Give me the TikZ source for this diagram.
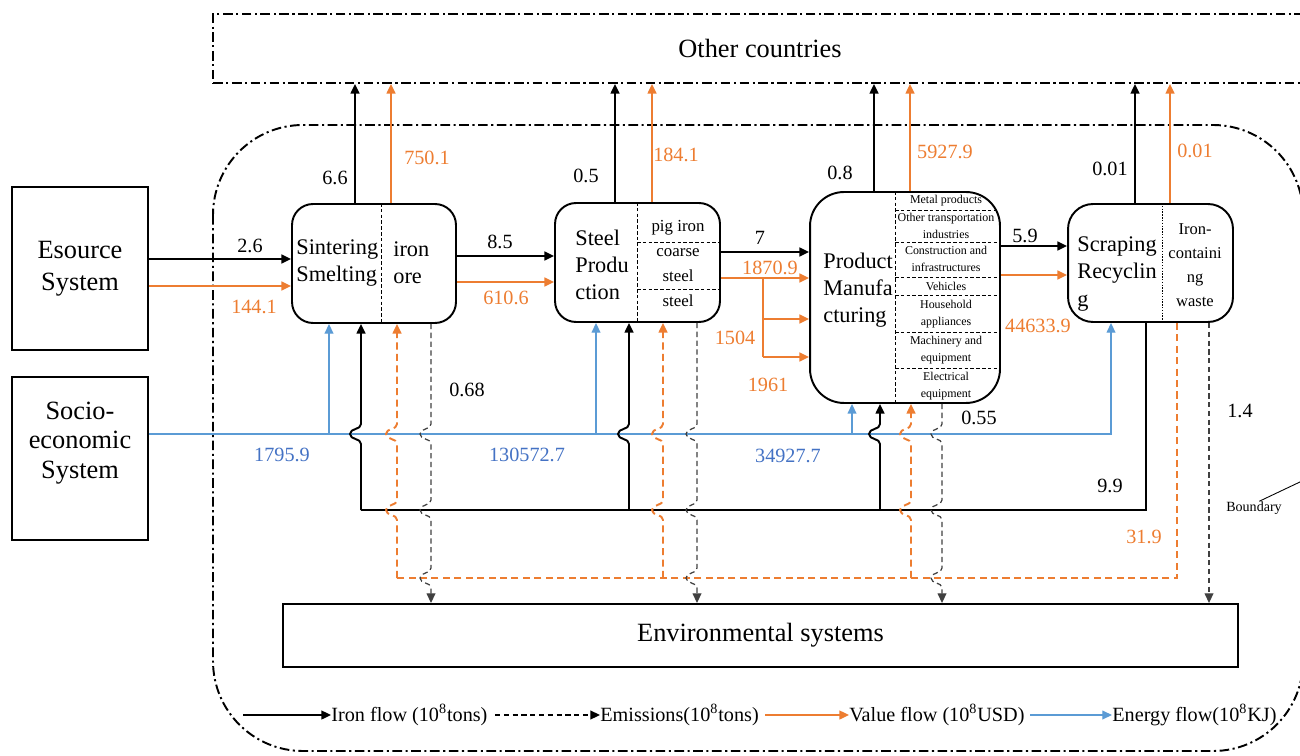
\documentclass[tikz,border=0pt]{standalone}
\usepackage{fontspec}
\setmainfont{Liberation Serif}
\usepackage{tikz}
\usetikzlibrary{arrows.meta}
\definecolor{valueorange}{HTML}{ED7D31}
\definecolor{energyblue}{HTML}{5B9BD5}
\definecolor{energydark}{HTML}{4472C4}
\definecolor{emisgray}{HTML}{404040}
\newcommand{\hopdown}[2]{-- (#1,#2-10) .. controls (#1,#2-4) and (#1-11,#2-6) .. (#1-11,#2) .. controls (#1-11,#2+6) and (#1,#2+4) .. (#1,#2+10)}
\newcommand{\hopup}[2]{-- (#1,#2+10) .. controls (#1,#2+4) and (#1-11,#2+6) .. (#1-11,#2) .. controls (#1-11,#2-6) and (#1,#2-4) .. (#1,#2-10)}

\begin{document}
\begin{tikzpicture}[x=0.02cm, y=-0.02cm,
  flowtip/.style={-{Triangle[length=5.5pt,width=5pt]}},
  sysbox/.style={draw, line width=1.1pt, minimum width=2.72cm, minimum height=3.26cm,
    align=center, font=\fontsize{15}{18}\selectfont},
  stage/.style={draw, line width=1.1pt, inner sep=0pt},
  stagetext/.style={anchor=west, align=left, inner sep=0pt, font=\fontsize{12.7}{15.6}\selectfont},
  parttext/.style={align=center, inner sep=0pt, font=\fontsize{9.6}{13.8}\selectfont},
  rowtext/.style={align=center, inner sep=0pt, font=\fontsize{6.8}{9.6}\selectfont},
  divider/.style={dash pattern=on 2pt off 1.3pt, line width=0.5pt},
  boundary/.style={line width=1.1pt, dash pattern=on 5.5pt off 2pt on 1.2pt off 2pt},
  ironflow/.style={line width=1.1pt},
  valueflow/.style={valueorange, line width=1.1pt},
  valuedash/.style={valueorange, line width=1.1pt, dash pattern=on 4pt off 2.5pt},
  emission/.style={emisgray, line width=0.7pt, dash pattern=on 3pt off 2pt},
  energyflow/.style={energyblue, line width=0.7pt},
  num/.style={font=\fontsize{11.5}{13}\selectfont, inner sep=0pt},
  legendtext/.style={anchor=west, inner sep=0pt, font=\fontsize{11.5}{13}\selectfont}
]
\useasboundingbox (0,0) rectangle (1300,756);

\node[draw, boundary, minimum width=21.88cm, minimum height=1.38cm, font=\fontsize{15}{18}\selectfont] (others) at (760,48.5) {Other countries};
\draw[boundary, rounded corners=1.8cm] (213,125) rectangle (1303,751);

\node[sysbox] (esource) at (80,268.5) {Esource\\System};
\node[sysbox] (socio) at (80,458.5) {};
\node[align=center, inner sep=0pt, font=\fontsize{15}{17}\selectfont] (sociotxt) at (80,443) {Socio-\\economic\\System};

\node[stage, rounded corners=0.42cm, minimum width=3.28cm, minimum height=2.38cm] (sinter) at (374,263.5) {};
\node[stage, rounded corners=0.42cm, minimum width=3.3cm, minimum height=2.38cm] (steel) at (637.5,262.5) {};
\node[stage, rounded corners=0.68cm, minimum width=3.8cm, minimum height=4.22cm] (pm) at (905,297.5) {};
\node[stage, rounded corners=0.5cm, minimum width=3.3cm, minimum height=2.36cm] (scrap) at (1150.5,263) {};
\node[draw, line width=1.1pt, minimum width=19.1cm, minimum height=1.26cm, font=\fontsize{15}{18}\selectfont] (env) at (760.5,635.5) {Environmental systems};

\node[stagetext] (sintertxt) at (296,263) {Sintering\\Smelting};
\node[stagetext] (oretxt) at (393,263) {iron\\ore};
\draw[divider] (381,0 |- sinter.north) -- (381,0 |- sinter.south);

\node[stagetext, font=\fontsize{12.7}{15.3}\selectfont] (steeltxt) at (575,265) {Steel\\Produ\\ction};
\draw[divider] (637,0 |- steel.north) -- (637,0 |- steel.south);
\draw[divider] (637,242) -- (steel.east |- 0,242);
\draw[divider] (637,289) -- (steel.east |- 0,289);
\node[parttext] (pigtxt) at (678,228) {pig iron};
\node[parttext] (coarsetxt) at (678,265) {coarse\\steel};
\node[parttext] (steelpart) at (678,301) {steel};

\node[stagetext, font=\fontsize{12.7}{15.3}\selectfont] (pmtxt) at (823,290) {Product\\Manufa\\cturing};
\draw[divider] (895,0 |- pm.north) -- (895,0 |- pm.south);
\foreach \y in {210,242,277,295,332,368}
  \draw[divider] (895,\y) -- (997,\y);
\node[rowtext] (row1) at (946,201) {Metal products};
\node[rowtext] (row2) at (946,226) {Other transportation\\industries};
\node[rowtext] (row3) at (946,259) {Construction and\\infrastructures};
\node[rowtext] (row4) at (946,286) {Vehicles};
\node[rowtext] (row5) at (946,314) {Household\\appliances};
\node[rowtext] (row6) at (946,350) {Machinery and\\equipment};
\node[rowtext] (row7) at (946,386) {Electrical\\equipment};

\node[stagetext, font=\fontsize{12.7}{15.9}\selectfont] (scraptxt) at (1077,274) {Scraping\\Recyclin\\g};
\draw[divider, dash pattern=on 0.8pt off 0.8pt] (1162,0 |- scrap.north) -- (1162,0 |- scrap.south);
\node[parttext, font=\fontsize{9.4}{13.6}\selectfont] (wastetxt) at (1195,265) {Iron-\\containi\\ng\\waste};

\draw[ironflow, flowtip] (esource.east |- 0,259) -- (sinter.west |- 0,259);
\draw[valueflow, flowtip] (esource.east |- 0,286) -- (sinter.west |- 0,286);
\draw[ironflow, flowtip] (sinter.east |- 0,256) -- (steel.west |- 0,256);
\draw[valueflow, flowtip] (sinter.east |- 0,282) -- (steel.west |- 0,282);
\draw[ironflow, flowtip] (steel.east |- 0,252) -- (pm.west |- 0,252);
\draw[valueflow, flowtip] (steel.east |- 0,278) -- (pm.west |- 0,278);
\coordinate (split) at (763,278);
\draw[valueflow] (split) -- (763,357);
\draw[valueflow, flowtip] (763,319) -- (pm.west |- 0,319);
\draw[valueflow, flowtip] (763,357) -- (pm.west |- 0,357);
\draw[ironflow, flowtip] (pm.east |- 0,246) -- (scrap.west |- 0,246);
\draw[valueflow, flowtip] (pm.east |- 0,275) -- (scrap.west |- 0,275);

\foreach \x/\n in {355/sinter, 615/steel, 874/pm, 1135/scrap}
  \draw[ironflow, flowtip] (\x,0 |- \n.north) -- (\x,0 |- others.south);
\foreach \x/\n in {391/sinter, 652/steel, 910/pm, 1170/scrap}
  \draw[valueflow, flowtip] (\x,0 |- \n.north) -- (\x,0 |- others.south);

\draw[energyflow, flowtip] (socio.east |- 0,434) -- (1111,434) -- (1111,0 |- scrap.south);
\foreach \x/\n in {329/sinter, 596/steel, 852/pm}
  \draw[energyflow, flowtip] (\x,434) -- (\x,0 |- \n.south);

\draw[ironflow] (1146,0 |- scrap.south) -- (1146,510) -- (361,510);
\foreach \x/\n in {361/sinter, 629/steel, 880/pm}
  \draw[ironflow, flowtip] (\x,510) \hopup{\x}{434} -- (\x,0 |- \n.south);

\draw[valuedash] (1177,0 |- scrap.south) -- (1177,578) -- (397,578);
\foreach \x/\n in {397/sinter, 663/steel, 911/pm}
  \draw[valuedash, flowtip] (\x,578) \hopup{\x}{510} \hopup{\x}{434} -- (\x,0 |- \n.south);

\foreach \x/\n in {431/sinter, 697/steel, 942/pm}
  \draw[emission, flowtip] (\x,0 |- \n.south) \hopdown{\x}{434} \hopdown{\x}{510} \hopdown{\x}{578} -- (\x,0 |- env.north);
\draw[emission, flowtip] (1209,0 |- scrap.south) -- (1209,0 |- env.north);

\node[num] (n26) at (250,246) {2.6};
\node[num, valueorange] (n1441) at (254,307) {144.1};
\node[num] (n85) at (500,242) {8.5};
\node[num, valueorange] (n6106) at (506,298) {610.6};
\node[num] (n7) at (760,238) {7};
\node[num, valueorange] (n18709) at (770,268) {1870.9};
\node[num, valueorange] (n1504) at (735,338) {1504};
\node[num, valueorange] (n1961) at (768,385) {1961};
\node[num] (n59) at (1025,236) {5.9};
\node[num, valueorange] (n446339) at (1038,326) {44633.9};
\node[num] (n66) at (335,178) {6.6};
\node[num, valueorange] (n7501) at (427,158) {750.1};
\node[num] (n05) at (586,176) {0.5};
\node[num, valueorange] (n1841) at (676,155) {184.1};
\node[num] (n08) at (840,173) {0.8};
\node[num, valueorange] (n59279) at (945,152) {5927.9};
\node[num] (n001) at (1110,169) {0.01};
\node[num, valueorange] (n001v) at (1195,151) {0.01};
\node[num, energydark] (n17959) at (282,455) {1795.9};
\node[num, energydark] (n1305727) at (527,455) {130572.7};
\node[num, energydark] (n349277) at (788,456) {34927.7};
\node[num] (n068) at (467,390) {0.68};
\node[num] (n055) at (979,418) {0.55};
\node[num] (n14) at (1240,411) {1.4};
\node[num] (n99) at (1110,486) {9.9};
\node[num, valueorange] (n319) at (1144,537) {31.9};

\node[inner sep=0pt, font=\fontsize{8}{9}\selectfont] (bdlabel) at (1254,508) {Boundary};
\draw[line width=0.5pt] ([xshift=3pt]bdlabel.north) -- (1302,481);

\node[legendtext] (legiron) at (331,715) {Iron flow (10\textsuperscript{8}tons)};
\draw[ironflow, flowtip] (243,715) -- (legiron.west);
\node[legendtext] (legemis) at (600,715) {Emissions(10\textsuperscript{8}tons)};
\draw[line width=1pt, dash pattern=on 3pt off 2pt, flowtip] (495,715) -- (legemis.west);
\node[legendtext] (legvalue) at (849,715) {Value flow (10\textsuperscript{8}USD)};
\draw[valueflow, flowtip] (765,715) -- (legvalue.west);
\node[legendtext] (legenergy) at (1112,715) {Energy flow(10\textsuperscript{8}KJ)};
\draw[energyflow, flowtip] (1030,715) -- (legenergy.west);
\end{tikzpicture}
\end{document}
